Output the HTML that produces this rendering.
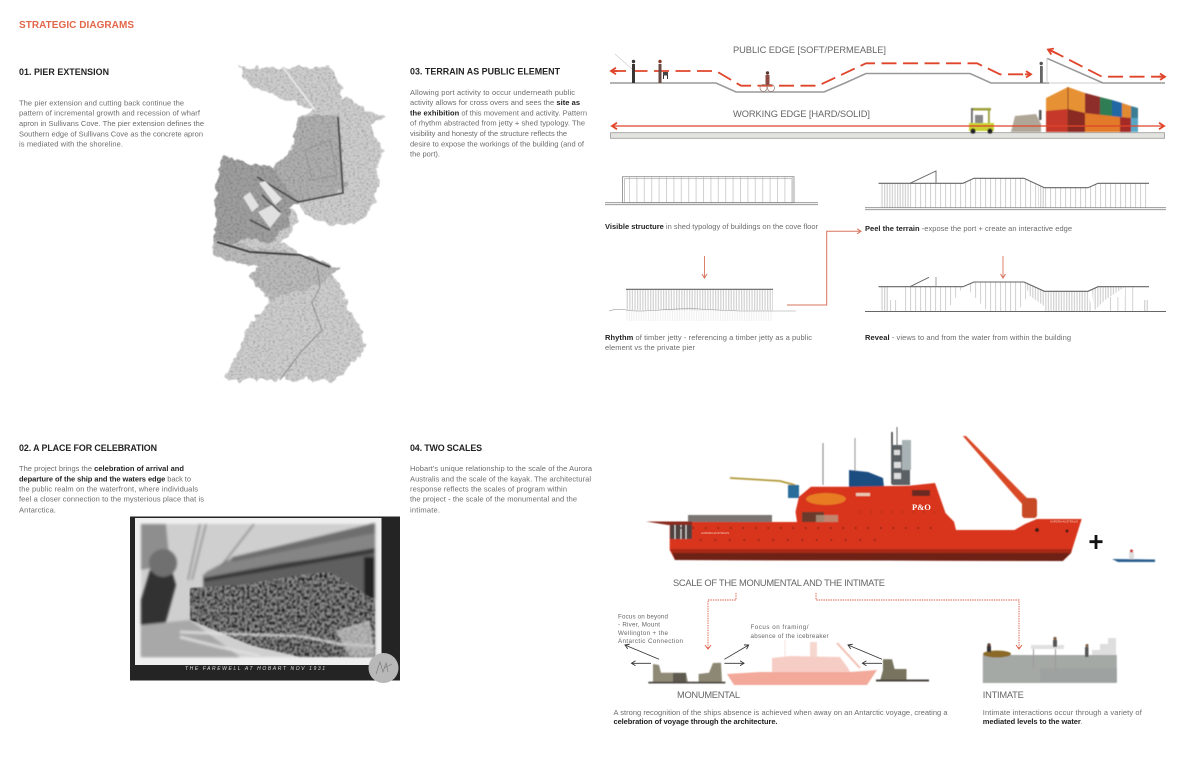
<!DOCTYPE html>
<html lang="en"><head><meta charset="utf-8"><title>Strategic Diagrams</title>
<style>html,body{margin:0;padding:0;background:#fff;width:1200px;height:774px;overflow:hidden}svg{display:block;filter:blur(.35px)}
text{font-family:"Liberation Sans",sans-serif}
.b{font-size:7.5px;fill:#6c6c6c}.b tspan{font-weight:bold;fill:#222}
.t{font-size:8.900px;font-weight:bold;fill:#222}
.l{font-size:9.300px;fill:#666}
.s{font-size:6.200px;fill:#666}
</style></head><body>
<svg width="1200" height="774" viewBox="0 0 1200 774" xmlns="http://www.w3.org/2000/svg">
<defs>
<pattern id="p3" width="2.6" height="10" patternUnits="userSpaceOnUse"><rect width="1.300" height="10" fill="#d4d4d4"/></pattern>
<pattern id="p5" width="5" height="10" patternUnits="userSpaceOnUse"><rect width="1.100" height="10" fill="#d4d4d4"/></pattern>
<pattern id="p7" width="7.4" height="10" patternUnits="userSpaceOnUse"><rect width="1" height="10" fill="#d2d2d2"/></pattern>
<pattern id="pf" width="2.4" height="10" patternUnits="userSpaceOnUse"><rect width="1" height="10" fill="#e8e8e8"/></pattern>
<marker id="ar" markerWidth="8" markerHeight="8" refX="6" refY="4" orient="auto-start-reverse" markerUnits="userSpaceOnUse"><path d="M1,0.8 L6,4 L1,7.2" fill="none" stroke="#e0452b" stroke-width="1.800"/></marker>
<marker id="as" markerWidth="7" markerHeight="7" refX="5" refY="3.500" orient="auto" markerUnits="userSpaceOnUse"><path d="M1,1 L5,3.500 L1,6" fill="none" stroke="#d9735c" stroke-width="1"/></marker>
<marker id="ak" markerWidth="7" markerHeight="7" refX="5" refY="3.500" orient="auto" markerUnits="userSpaceOnUse"><path d="M1,1 L5,3.500 L1,6" fill="none" stroke="#333" stroke-width=".9"/></marker>
<filter id="sk" x="-10%" y="-10%" width="120%" height="120%" color-interpolation-filters="sRGB">
<feTurbulence type="fractalNoise" baseFrequency=".11" numOctaves="2" seed="4" result="n1"/>
<feDisplacementMap in="SourceGraphic" in2="n1" scale="11" xChannelSelector="R" yChannelSelector="G" result="d"/>
<feTurbulence type="fractalNoise" baseFrequency=".45 .7" numOctaves="2" seed="8" result="n2"/>
<feColorMatrix in="n2" type="matrix" values=".8 0 0 0 .58 .8 0 0 0 .58 .8 0 0 0 .58 0 0 0 0 1" result="g"/>
<feComposite in="g" in2="d" operator="in" result="t"/>
<feBlend in="t" in2="d" mode="multiply"/>
<feGaussianBlur stdDeviation=".45"/>
</filter>
<filter id="cr" x="-5%" y="-5%" width="110%" height="110%" color-interpolation-filters="sRGB">
<feTurbulence type="fractalNoise" baseFrequency=".4 .32" numOctaves="2" seed="11" result="n"/>
<feColorMatrix in="n" type="matrix" values="2.200 0 0 0 -.35 2.200 0 0 0 -.35 2.200 0 0 0 -.35 0 0 0 0 1" result="g"/>
<feComposite in="g" in2="SourceAlpha" operator="in" result="t"/>
<feBlend in="t" in2="SourceGraphic" mode="multiply"/>
<feGaussianBlur stdDeviation=".7"/>
</filter>
<filter id="bl"><feGaussianBlur stdDeviation=".5"/></filter>
<filter id="bl2"><feGaussianBlur stdDeviation="1.200"/></filter>
</defs>
<rect width="1200" height="774" fill="#fff"/>

<!-- Headings and copy -->
<text x="19" y="28" font-size="10" font-weight="bold" fill="#e2664a" textLength="115">STRATEGIC DIAGRAMS</text>
<text class="t" x="19" y="75" textLength="90">01. PIER EXTENSION</text>
<text class="b" x="19" y="105.500" textLength="165">The pier extension and cutting back continue the</text>
<text class="b" x="19" y="115.500" textLength="181">pattern of incremental growth and recession of wharf</text>
<text class="b" x="19" y="126" textLength="185">apron in Sullivans Cove. The pier extension defines the</text>
<text class="b" x="19" y="136.500" textLength="184">Southern edge of Sullivans Cove as the concrete apron</text>
<text class="b" x="19" y="146.700" textLength="104">is mediated with the shoreline.</text>

<text class="t" x="410" y="74.500" textLength="150">03. TERRAIN AS PUBLIC ELEMENT</text>
<text class="b" x="410" y="95" textLength="165">Allowing port activity to occur underneath public</text>
<text class="b" x="410" y="105" textLength="170">activity allows for cross overs and sees the <tspan>site as</tspan></text>
<text class="b" x="410" y="115.400" textLength="177"><tspan>the exhibition</tspan> of this movement and activity. Pattern</text>
<text class="b" x="410" y="125.700" textLength="175">of rhythm abstracted from jetty + shed typology. The</text>
<text class="b" x="410" y="136" textLength="157">visibility and honesty of the structure reflects the</text>
<text class="b" x="410" y="146.400" textLength="174">desire to expose the workings of the building (and of</text>
<text class="b" x="410" y="156.700" textLength="30">the port).</text>

<text class="t" x="19" y="451" textLength="138">02. A PLACE FOR CELEBRATION</text>
<text class="b" x="19" y="471" textLength="165">The project brings  the <tspan>celebration of arrival and</tspan></text>
<text class="b" x="19" y="481.400" textLength="172"><tspan>departure of the ship and the waters edge</tspan> back to</text>
<text class="b" x="19" y="491.400" textLength="179">the public realm on the waterfront, where individuals</text>
<text class="b" x="19" y="501.700" textLength="185">feel a closer connection to the mysterious place that is</text>
<text class="b" x="19" y="512.400" textLength="37">Antarctica.</text>

<text class="t" x="410" y="451" textLength="72">04. TWO SCALES</text>
<text class="b" x="410" y="471" textLength="182">Hobart's unique relationship to the scale of the Aurora</text>
<text class="b" x="410" y="481.400" textLength="181">Australis and the scale of the kayak. The architectural</text>
<text class="b" x="410" y="491.400" textLength="157">response reflects the scales of program within</text>
<text class="b" x="410" y="501.700" textLength="167">the project - the scale of the monumental and the</text>
<text class="b" x="410" y="512.400" textLength="30">intimate.</text>

<!-- Pencil site drawing -->
<g filter="url(#sk)">
<polygon fill="#cfcfcf" points="237,67 330,67 340,83 343,97 385,118 370,125 382,148 377,193 368,217 347,223 317,223 297,203 290,207 297,220 288,237 280,242 300,255 340,267 333,273 343,290 347,307 360,327 365,350 337,380 225,380 237,353 250,323 270,303 250,277 257,267 215,257 215,187 222,157 273,168 290,150 298,117 313,110 277,97 250,85"/>
<polygon fill="#b0b0b0" points="298,117 338,114 345,190 298,203 262,178 273,168 290,150"/>
<polygon fill="#a0a0a0" points="215,187 222,157 273,168 298,203 290,207 290,225 270,242 250,240 215,245"/>
<polygon fill="#bcbcbc" points="216,240 300,255 340,267 320,285 270,300 250,277 257,267 215,257"/>
</g>
<g filter="url(#bl)" fill="none">
<path d="M338,117 L343,193 L298,202 L257,177" stroke="#4a4a4a" stroke-width="1.600"/>
<path d="M217,242 L250,252 L300,255 L330,267" stroke="#3c3c3c" stroke-width="1.800"/>
<path d="M317,267 L320,287 L312,303 L322,330 L300,353 L280,380" stroke="#777" stroke-width=".7"/>
<path d="M283,67 L300,90 L315,110" stroke="#e8e8e8" stroke-width="1.800"/>
<path d="M305,150 L330,140 L337,175 L312,180 Z" stroke="#8a8a8a" stroke-width=".7"/>
<polygon points="259,183 265,181 282,199 275,205" fill="#e4e4e4"/>
<polygon points="243,197 250,192 259,206 252,212" fill="#e2e2e2"/>
<polygon points="258,212 272,205 281,214 270,228" fill="#e0e0e0"/>
<path d="M250,220 L270,230 M262,195 L280,212" stroke="#444" stroke-width="1.300"/>
</g>

<!-- Historic photograph -->
<rect x="130" y="516.500" width="270" height="164" fill="#242424"/>
<rect x="135" y="518" width="246.500" height="147" fill="#efefef"/>
<g filter="url(#bl2)">
<rect x="141" y="524" width="235" height="133" fill="#cfcfcf"/>
<polygon points="203,575 232,558 375,523 375,600 203,590" fill="#5f5f5f"/>
<polygon points="206,572 232,558 375,533 375,551 280,563 203,578" fill="#858585"/>
<polygon points="232,557 375,523 375,533 232,562" fill="#6e6e6e"/>
<polygon points="203,578 375,548 375,553 203,582" fill="#383838"/>
<rect x="364" y="557" width="11" height="42" fill="#222"/>
<path d="M200,524 L188,580 M206,524 L192,580 M254,524 L222,565" stroke="#555" stroke-width="1.100" fill="none"/>
<polygon points="141,524 166,524 170,565 141,570" fill="#8e8e8e"/>
</g>
<polygon filter="url(#cr)" points="190,588 240,585 300,575 330,572 375,600 375,657 300,657 250,645 190,620" fill="#8a8a8a"/>
<g filter="url(#bl2)">
<polygon points="141,600 150,570 170,565 176,585 165,625 141,635" fill="#333"/>
<ellipse cx="163" cy="563" rx="14" ry="14" fill="#707070"/>
<polygon points="141,625 190,620 240,657 141,657" fill="#a8a8a8"/>
<path d="M180,632 L230,634 L300,636 L340,644 L375,646 M180,637 L220,647 L260,656" stroke="#e2e2e2" stroke-width="2.200" fill="none"/>
<polygon points="335,630 370,620 375,657 350,657" fill="#cacaca" opacity=".7"/>
</g>
<text x="185" y="670" font-size="5" font-style="italic" fill="#ddd" textLength="140">THE FAREWELL AT HOBART NOV 1931</text>
<circle cx="383.500" cy="668" r="15" fill="#b8b8b8"/>
<path d="M376,674 L380,662 L383,672 L386,663 L388,672 M384,668 L392,664" stroke="#777" stroke-width=".6" fill="none"/>

<!-- 03 top diagrams -->
<text class="l" x="733" y="53" textLength="153">PUBLIC EDGE [SOFT/PERMEABLE]</text>
<text class="l" x="733" y="117" textLength="137">WORKING EDGE [HARD/SOLID]</text>
<polyline points="610,83 716,83 736,92 824,92 845,83 866,73.500 970,73.500 991,83 1049,83" fill="none" stroke="#999" stroke-width="1.600"/>
<line x1="1049" y1="83" x2="1103" y2="83" stroke="#ddd" stroke-width="1.500"/>
<polyline points="1103,83 1165,83" fill="none" stroke="#999" stroke-width="1.600"/>
<line x1="1047" y1="58.300" x2="1103" y2="83" stroke="#999" stroke-width="1.600"/>
<line x1="1047" y1="58.300" x2="1047" y2="83" stroke="#ccc" stroke-width="1"/>
<g fill="none" stroke="#e0452b" stroke-width="1.800" stroke-dasharray="15 6.500" >
<polyline points="611,71 716,71 741,85.700 818,85.700 866,63.300 977,63.300 1000,74.300 1030,74.300" />
<polyline points="1050,50 1102,76.700 1164,76.700"/>
</g>
<g fill="none"><line x1="618" y1="71" x2="611" y2="71" stroke="#e0452b" stroke-width="1.800" marker-end="url(#ar)"/>
<line x1="1025" y1="74.300" x2="1031" y2="74.300" stroke="#e0452b" stroke-width="1.800" marker-end="url(#ar)"/>
<line x1="1058" y1="54" x2="1048" y2="49.500" stroke="#e0452b" stroke-width="1.800" marker-end="url(#ar)"/>
<line x1="1158" y1="76.700" x2="1165" y2="76.700" stroke="#e0452b" stroke-width="1.800" marker-end="url(#ar)"/></g>
<line x1="615" y1="54" x2="632" y2="69" stroke="#aaa" stroke-width=".5"/>
<g fill="#3a3535"><rect x="632" y="64" width="3" height="19"/><circle cx="633.500" cy="61.500" r="1.700"/>
<rect x="658.500" y="64" width="3" height="19" fill="#6a4a44"/><circle cx="660" cy="61.500" r="1.700" fill="#8c3b2c"/><rect x="663" y="72" width="5" height="3.500" fill="#444"/><rect x="663" y="75" width="1" height="4"/><rect x="667" y="75" width="1" height="4"/>
<rect x="1040" y="66" width="2.800" height="17" fill="#666"/><circle cx="1041.200" cy="63.500" r="1.700" fill="#555"/></g>
<g><circle cx="763.500" cy="88" r="3.500" fill="none" stroke="#9a7a70" stroke-width=".7"/><circle cx="771" cy="88" r="3.500" fill="none" stroke="#9a7a70" stroke-width=".7"/><rect x="765.500" y="75" width="4" height="10" fill="#8c4a42"/><circle cx="767.500" cy="73" r="1.700" fill="#5c3a34"/></g>

<rect x="610.500" y="132.700" width="554" height="5.600" fill="#e2e2de" stroke="#999" stroke-width=".8"/>
<!-- forklift and crate -->
<g filter="url(#bl)">
<rect x="971" y="108" width="20" height="2.500" fill="#9ba13a"/><rect x="971" y="108" width="1.800" height="16" fill="#666"/><rect x="988" y="108" width="1.800" height="16" fill="#9ba13a"/>
<rect x="969" y="123" width="25" height="8" fill="#c7d133"/><rect x="975" y="115" width="8" height="8" fill="#888"/>
<circle cx="973" cy="131" r="2.600" fill="#222"/><circle cx="990" cy="131" r="2.600" fill="#222"/>
<polygon points="1015,116 1036,114 1041,124 1041,132 1011,132" fill="#b0a698"/><rect x="1039" y="110" width="2.500" height="10" fill="#555"/>
<!-- containers -->
<polygon points="1046,98 1068,87 1085,93 1085,116 1046,111" fill="#e79136"/>
<polygon points="1085,93 1100,97 1100,116 1085,116" fill="#8e2f2b"/>
<polygon points="1100,97 1112,100 1112,116 1100,116" fill="#2f7d55"/>
<polygon points="1112,100 1122,103 1122,117 1112,117" fill="#2467a5"/>
<polygon points="1122,103 1131,106 1131,118 1122,118" fill="#e08a32"/>
<polygon points="1131,106 1138,108 1138,118 1131,118" fill="#3b7e94"/>
<polygon points="1046,111 1068,109 1068,132 1046,132" fill="#c5372c"/>
<polygon points="1068,109 1085,113 1085,132 1068,132" fill="#8a2a24"/>
<polygon points="1085,113 1120,117 1120,132 1085,132" fill="#e27a2a"/>
<polygon points="1120,117 1131,118 1131,132 1120,132" fill="#a32c25"/>
<polygon points="1131,118 1138,118 1138,132 1131,132" fill="#58a6c5"/>
<line x1="1068" y1="87" x2="1068" y2="132" stroke="#7c3a20" stroke-width=".8"/>
</g>
<line x1="612" y1="126" x2="1164" y2="126" stroke="#e0452b" stroke-width="1.300" marker-start="url(#ar)" marker-end="url(#ar)"/>

<!-- shed diagrams -->
<rect x="622" y="176.700" width="172" height="26" fill="url(#p7)"/>
<rect x="622.500" y="176.700" width="171.500" height="26" fill="none" stroke="#888" stroke-width=".8"/>
<rect x="624.500" y="178.700" width="167.500" height="24" fill="none" stroke="#aaa" stroke-width=".7"/>
<path d="M605,202.700 H818 M605,204.700 H818" stroke="#888" stroke-width=".8"/>
<text class="b" x="605" y="229" textLength="213"><tspan>Visible structure</tspan> in shed typology of buildings on the cove floor</text>

<g>
<polygon points="880,183.300 910,183.300 910,207.700 880,207.700" fill="url(#p3)"/>
<polygon points="910,183.300 963,183.300 974,178.300 1024,178.300 1040,186 1040,207.700 910,207.700" fill="url(#p5)"/>
<polygon points="1038,185 1044,187.700 1044,207.700 1038,207.700" fill="url(#p3)"/>
<polygon points="1044,187.700 1088,187.700 1098,183.300 1149,183.300 1149,207.700 1044,207.700" fill="url(#p5)"/>
<polyline points="878.500,183.300 963,183.300 974,178.300 1024,178.300 1044.400,187.700 1088,187.700 1098,183.300 1149,183.300" fill="none" stroke="#666" stroke-width="1.100"/>
<polyline points="910,183.300 936,171 936,183.300" fill="none" stroke="#666" stroke-width=".9"/>
<path d="M865,207.700 H1166 M865,209.700 H1166" stroke="#888" stroke-width=".8"/>
</g>
<text class="b" x="865" y="231" textLength="207"><tspan>Peel the terrain</tspan> -expose the port + create an interactive edge</text>

<line x1="704.500" y1="256" x2="704.500" y2="278" stroke="#d9735c" stroke-width=".9" marker-end="url(#as)"/>
<line x1="1003" y1="256" x2="1003" y2="278" stroke="#d9735c" stroke-width=".9" marker-end="url(#as)"/>
<polyline points="787,305 826.700,305 826.700,231.300 861,231.300" fill="none" stroke="#d9735c" stroke-width="1" marker-end="url(#as)"/>

<rect x="626" y="289.300" width="147" height="21" fill="url(#p3)"/>
<rect x="626" y="310" width="147" height="11" fill="url(#pf)" opacity=".7"/>
<line x1="626" y1="289.300" x2="773" y2="289.300" stroke="#666" stroke-width="1.100"/>
<path d="M609,311 Q618,308 626,310 T660,310 T700,309 T740,311 L796,311" fill="none" stroke="#999" stroke-width=".6"/>
<text class="b" x="605" y="340" textLength="207"><tspan>Rhythm</tspan> of timber jetty - referencing a timber jetty as a public</text>
<text class="b" x="605" y="350" textLength="90">element vs the private pier</text>

<g>
<polygon points="880,286.700 888,286.700 888,311 880,311" fill="url(#p3)"/>
<polygon points="902,286.700 963,286.700 950,306 945,311 902,311" fill="url(#p5)"/>
<polygon points="966,286.700 974,282 1024,282 1034,286 1018,311 987,311 972,294" fill="url(#p5)"/>
<polygon points="1024,282 1044,291.300 1044,306 1030,296" fill="url(#p3)"/>
<polygon points="1044,291.300 1088,291.300 1092,311 1044,311" fill="url(#p3)"/>
<polygon points="1092,290 1098,286.700 1125,286.700 1105,300 1094,311" fill="url(#p3)"/>
<polygon points="1105,297 1135,297 1140,311 1105,311" fill="url(#p7)"/>
<polygon points="1125,286.700 1135,286.700 1135,297 1125,297" fill="url(#p7)"/>
<polygon points="1143,300 1148,300 1148,311 1143,311" fill="url(#p3)"/>
<polygon points="888,300 898,300 898,311 888,311" fill="url(#p5)"/>
<polyline points="878.500,286.700 963,286.700 974,282 1024,282 1044.400,291.300 1088,291.300 1098,286.700 1149,286.700" fill="none" stroke="#666" stroke-width="1.100"/>
<polyline points="910,286.700 929,277.300" fill="none" stroke="#666" stroke-width=".9"/>
<line x1="936" y1="277" x2="936" y2="286.700" stroke="#888" stroke-width=".8"/>
<line x1="865" y1="311.500" x2="1166" y2="311.500" stroke="#666" stroke-width="1"/>
</g>
<text class="b" x="865" y="340" textLength="206"><tspan>Reveal</tspan> - views to and from the water from within the building</text>

<!-- Ship -->
<g filter="url(#bl)">
<line x1="823" y1="443" x2="823" y2="485" stroke="#888" stroke-width="1.100"/>
<line x1="855" y1="438" x2="855" y2="482" stroke="#999" stroke-width="1.100"/>
<line x1="892" y1="432" x2="892" y2="484" stroke="#333" stroke-width="1.500"/>
<line x1="897" y1="427" x2="897" y2="445" stroke="#666" stroke-width="1"/>
<rect x="892" y="445" width="18" height="40" fill="#5a6164"/><rect x="902" y="440" width="9" height="30" fill="#a9b3b5"/>
<rect x="894" y="450" width="6" height="5" fill="#ddd"/><rect x="894" y="462" width="7" height="6" fill="#ddd"/><rect x="894" y="473" width="7" height="6" fill="#ddd"/>
<polygon points="849,470 868,472 883,478 884,487 849,487" fill="#1f4e80"/>
<polyline points="730,478 780,481 795,485" fill="none" stroke="#b29a3a" stroke-width="1.800"/>
<rect x="788" y="485" width="11" height="13" fill="#2a6c9a"/>
<polygon points="688,515 772,515 772,523 688,523" fill="#7a7472"/>
<polygon points="669.700,522 797,522 795.500,511.700 799,496.700 811,486.700 850.700,486.700 909,485.700 935,483 945.500,513 954,521.700 956,530 1014.500,530 1025,524 1037,519 1081.700,519 1071,553 1062.800,561 675,560 669.700,550" fill="#d8361f"/>
<polygon points="672,553 1071,553 1062.800,561 675,560" fill="#6e2417"/>
<polygon points="670,549 1072,549 1071,553 672,553" fill="#a82a18"/>
<polygon points="646,521.500 692,521.500 692,525 668,525" fill="#8a2a1e"/>
<rect x="670" y="525" width="22" height="14" fill="#4f3f3c"/><path d="M675,525 V539 M681,525 V539 M686,525 V539" stroke="#ddd" stroke-width="1"/>
<polygon points="962.800,436 966,436 1022,493 1029,500 1023,505 1014,495" fill="#d94a25"/>
<rect x="1022" y="498" width="15" height="20" rx="3" fill="#c84a25"/>
<ellipse cx="826" cy="499" rx="20" ry="6" fill="#e77b24"/>
<rect x="802" y="512" width="22" height="10" fill="#6a3a2c"/><rect x="816" y="515" width="22" height="7" fill="#b9a58e" opacity=".7"/>
<rect x="912" y="490" width="18" height="6" fill="#6a2c20"/><rect x="856" y="493" width="14" height="3" fill="#e9c9b4"/>
<path d="M680,528 H940" stroke="#4a1a10" stroke-width="1.200" stroke-dasharray="1.500 11"/>
<path d="M700,540 H880" stroke="#4a1a10" stroke-width="1.200" stroke-dasharray="1.500 13"/>
<path d="M860,512 H935" stroke="#8c2a1a" stroke-width="1" stroke-dasharray="1.500 9"/>
<circle cx="1037" cy="530" r="2" fill="#3a1a12"/><circle cx="1067" cy="531" r="1.500" fill="#3a1a12"/>
</g>
<text x="912" y="510" font-size="8.500" font-weight="bold" fill="#fff" style="font-family:'Liberation Serif',serif">P&amp;O</text>
<text x="701" y="534" font-size="2.800" fill="#f3d0c0">AURORA AUSTRALIS</text>
<text x="1050" y="522.500" font-size="2.800" fill="#f3d0c0">AURORA AUSTRALIS</text>
<path d="M1096,535 V549 M1089.500,541.700 H1102.500" stroke="#111" stroke-width="2.800"/>
<g filter="url(#bl)"><polygon points="1112,559 1155,559.500 1155,562 1118,562" fill="#2a5f8f"/><rect x="1129" y="552" width="5" height="7" fill="#ddd"/><circle cx="1131.500" cy="551" r="1.500" fill="#c33"/></g>

<text class="l" x="673" y="586" textLength="212">SCALE OF THE MONUMENTAL AND THE INTIMATE</text>
<polyline points="736,593 736,600 708,600 708,648" fill="none" stroke="#d9553e" stroke-width=".9" stroke-dasharray="1.400 1"/>
<polyline points="816,593 816,600 1019,600 1019,648" fill="none" stroke="#d9553e" stroke-width=".9" stroke-dasharray="1.400 1"/>
<path d="M705,645 L708,649 L711,645 M1016,645 L1019,649 L1022,645" fill="none" stroke="#d9553e" stroke-width=".9"/>

<text class="s" x="618" y="618.500" textLength="50">Focus on beyond</text>
<text class="s" x="618" y="626.500" textLength="42">- River, Mount</text>
<text class="s" x="618" y="635" textLength="50">Wellington + the</text>
<text class="s" x="618" y="643.200" textLength="65">Antarctic Connection</text>
<text class="s" x="750.500" y="629" textLength="58">Focus on framing/</text>
<text class="s" x="750.500" y="638" textLength="78">absence of the icebreaker</text>

<!-- pale ship -->
<g opacity=".55" filter="url(#bl)">
<line x1="785" y1="640" x2="785" y2="660" stroke="#f0c8bd" stroke-width="1"/>
<rect x="810" y="642" width="7" height="16" fill="#eeb8aa"/>
<line x1="837" y1="643" x2="860" y2="668" stroke="#e88a72" stroke-width="2"/>
<polygon points="772,672 772,658 790,656 840,657 848,668 850,672" fill="#f0a595"/>
<polygon points="727,674 760,672 850,672 877,670 867,685 734,685" fill="#e8634a"/>
</g>
<!-- concrete -->
<g filter="url(#bl)">
<polygon points="653,664 659,665 661,672.700 686,672.700 688,682 653,682" fill="#8f8a76"/>
<rect x="673" y="673" width="13" height="9" fill="#5f5a50"/>
<polygon points="698.600,674 709,672.700 713,663 721,662.700 722,682 698.600,682" fill="#8d8873"/>
<rect x="648.400" y="681.700" width="77" height="1.800" fill="#4e4b44"/>
<polygon points="883,659.300 892,659.300 894.600,669 906.500,669 906.500,680 880,681 883,670" fill="#77735f"/>
<rect x="876" y="679.500" width="53" height="2" fill="#47453e"/>
</g>
<g stroke="#333" stroke-width=".8">
<line x1="659" y1="659.300" x2="625" y2="645" marker-end="url(#ak)"/>
<line x1="651" y1="663.300" x2="631.500" y2="663.300" marker-end="url(#ak)"/>
<line x1="724.400" y1="659.300" x2="748.700" y2="645" marker-end="url(#ak)"/>
<line x1="724.400" y1="663.300" x2="744" y2="663.300" marker-end="url(#ak)"/>
<line x1="882" y1="659.300" x2="848" y2="645" marker-end="url(#ak)"/>
<line x1="882" y1="663.300" x2="862.400" y2="663.300" marker-end="url(#ak)"/>
</g>
<text class="l" x="677" y="698" textLength="63">MONUMENTAL</text>
<text class="b" x="613.500" y="715" textLength="334">A strong recognition of the ships absence is achieved when away on an Antarctic voyage, creating a</text>
<text class="b" x="613.500" y="724" textLength="164"><tspan>celebration of voyage through the architecture.</tspan></text>

<!-- Intimate -->
<g filter="url(#bl)">
<rect x="982.800" y="655" width="134" height="28" fill="#a5a9a6"/>
<rect x="1040" y="668" width="77" height="14" fill="#9a9f9c" opacity=".6"/>
<polygon points="1108,638 1116,638 1116,655 1092,655 1092,650 1100,650 1100,644 1108,644" fill="#dedede"/>
<rect x="1031" y="645" width="33" height="4" fill="#e0e0e0"/><rect x="1033" y="649" width="1" height="20" fill="#999"/><rect x="1055" y="649" width="1" height="20" fill="#999"/>
<ellipse cx="997" cy="654" rx="14" ry="3.500" fill="#8a6a28"/>
<rect x="987" y="646" width="4" height="6" fill="#333"/><circle cx="989" cy="645" r="1.700" fill="#5c4030"/>
<rect x="1053" y="640" width="4" height="7" fill="#555"/><circle cx="1055" cy="638.500" r="1.600" fill="#7a5a40"/>
<rect x="1085" y="647" width="3.500" height="10" fill="#555"/><circle cx="1087" cy="645.500" r="1.500" fill="#7a5a40"/>
</g>
<text class="l" x="982.800" y="698" textLength="41">INTIMATE</text>
<text class="b" x="982.800" y="715" textLength="159">Intimate interactions occur through a variety of</text>
<text class="b" x="982.800" y="724" textLength="100"><tspan>mediated levels to the water</tspan>.</text>
</svg>
</body></html>
